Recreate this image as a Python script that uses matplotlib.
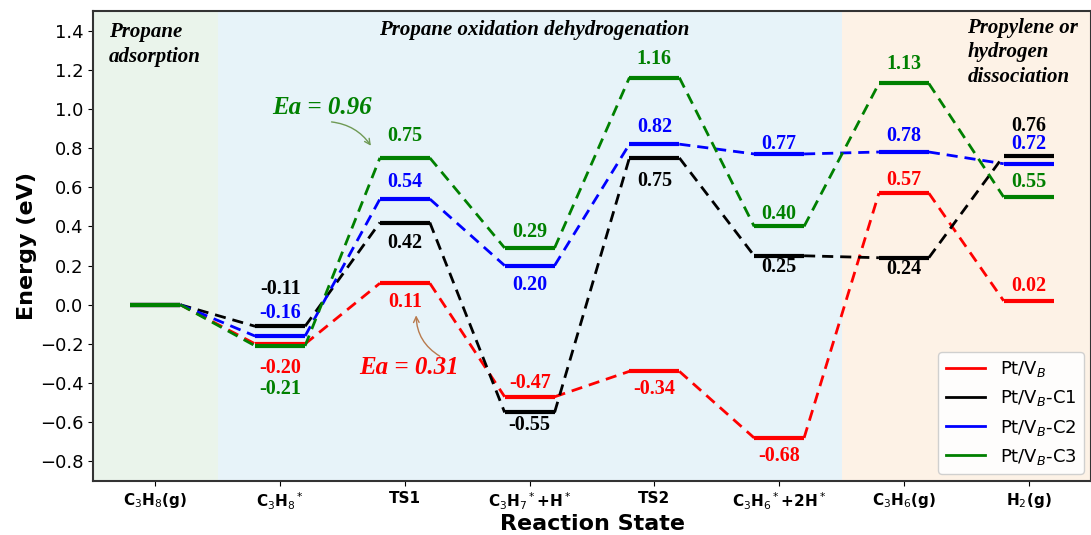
import matplotlib
matplotlib.use('Agg')
import matplotlib.pyplot as plt
from matplotlib.lines import Line2D

estados = ['C$_3$H$_8$(g)', 'C$_3$H$_8$$^*$', 'TS1', 'C$_3$H$_7$$^*$+H$^*$',
           'TS2', 'C$_3$H$_6$$^*$+2H$^*$', 'C$_3$H$_6$(g)', 'H$_2$(g)']

nomes = ['Pt/V$_B$', 'Pt/V$_B$-C1', 'Pt/V$_B$-C2', 'Pt/V$_B$-C3']
e_vb = [0.00, -0.20, 0.11, -0.47, -0.34, -0.68, 0.57, 0.02]
e_c1 = [0.00, -0.11, 0.42, -0.55, 0.75, 0.25, 0.24, 0.76]
e_c2 = [0.00, -0.16, 0.54, 0.20, 0.82, 0.77, 0.78, 0.72]
e_c3 = [0.00, -0.21, 0.75, 0.29, 1.16, 0.40, 1.13, 0.55]

cores = ['red', 'black', 'blue', 'green']
# deslocamento vertical dos rotulos (pixels, + acima / - abaixo)
desloc = [
    [0, -24, -19, 14, -18, -18, 13, 15],
    [0, 37, -20, -13, -23, -11, -11, 30],
    [0, 23, 17, -19, 17, 10, 16, 20],
    [0, -43, 22, 16, 19, 12, 19, 15],
]

series = [e_vb, e_c1, e_c2, e_c3]
meia = 0.2

fig = plt.figure(figsize=(10.91, 5.35), dpi=100)
ax = fig.add_axes([93 / 1091, 1 - 481 / 535, 998 / 1091, 470 / 535])

ax.axvspan(-0.5, 0.5, color='#eaf4eb', zorder=0, lw=0)
ax.axvspan(0.5, 5.5, color='#e7f3f9', zorder=0, lw=0)
ax.axvspan(5.5, 7.5, color='#fdf2e6', zorder=0, lw=0)

serif = ['Liberation Serif', 'DejaVu Serif']

for e, cor, dl in zip(series, cores, desloc):
    for i, y in enumerate(e):
        ax.plot([i - meia, i + meia], [y, y], color=cor, lw=3, solid_capstyle='butt', zorder=3)
        if i < len(e) - 1:
            ax.plot([i + meia, i + 1 - meia], [y, e[i + 1]], color=cor, lw=2,
                    ls=(0, (4, 2.5)), zorder=2)
        if i > 0:
            ax.annotate(f'{y:.2f}', xy=(i, y), xytext=(0, dl[i]), textcoords='offset pixels',
                        ha='center', va='center', color=cor, fontsize=14.5,
                        fontweight='bold', family=serif, zorder=4)

# energias de ativacao
ax.text(1.336, 1.008, 'Ea = 0.96', color='green', fontsize=18, fontweight='bold',
        fontstyle='italic', family=serif, ha='center', va='center')
ax.annotate('', xy=(1.74, 0.80), xytext=(1.39, 0.935),
            arrowprops=dict(arrowstyle='->', color='#6f9a55', lw=1,
                            connectionstyle='arc3,rad=-0.25'))
ax.text(2.03, -0.322, 'Ea = 0.31', color='red', fontsize=18, fontweight='bold',
        fontstyle='italic', family=serif, ha='center', va='center')
ax.annotate('', xy=(2.09, -0.04), xytext=(2.30, -0.27),
            arrowprops=dict(arrowstyle='->', color='#b87a4e', lw=1,
                            connectionstyle='arc3,rad=-0.3'))

# titulos das regioes
ax.text(-0.37, 1.445, 'Propane\nadsorption', fontsize=15, fontweight='bold', fontstyle='italic',
        family=serif, ha='left', va='top', linespacing=1.35)
ax.text(3.04, 1.405, 'Propane oxidation dehydrogenation', fontsize=15, fontweight='bold',
        fontstyle='italic', family=serif, ha='center', va='center')
ax.text(6.51, 1.465, 'Propylene or\nhydrogen\ndissociation', fontsize=15, fontweight='bold',
        fontstyle='italic', family=serif, ha='left', va='top', linespacing=1.3)

ax.set_xlim(-0.5, 7.5)
ax.set_ylim(-0.9, 1.5)
ax.set_xticks(range(len(estados)))
ax.set_xticklabels(estados, fontsize=11, fontweight='bold')
ax.set_yticks([-0.8, -0.6, -0.4, -0.2, 0.0, 0.2, 0.4, 0.6, 0.8, 1.0, 1.2, 1.4])
ax.tick_params(axis='y', labelsize=13)
ax.set_xlabel('Reaction State', fontsize=16, fontweight='bold', labelpad=1)
ax.set_ylabel('Energy (eV)', fontsize=16, fontweight='bold', labelpad=2)
for s in ax.spines.values():
    s.set_linewidth(1.5)
    s.set_color('#333333')

handles = [Line2D([0], [0], color=c, lw=2) for c in cores]
ax.legend(handles, nomes, loc='lower right', fontsize=13, framealpha=0.9,
          handlelength=2.2, borderaxespad=0.4)

fig.savefig('out.png', dpi=100)
